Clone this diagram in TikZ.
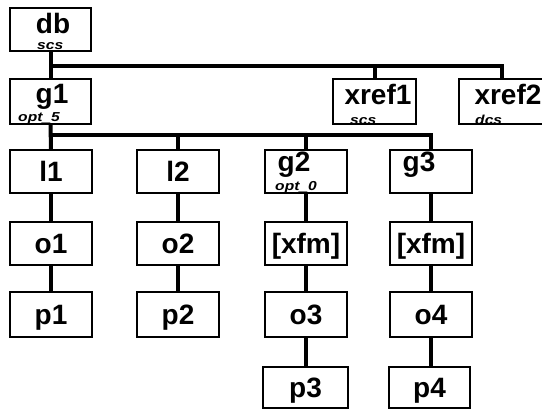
\documentclass[tikz,border=0pt]{standalone}
\usepackage{fontspec}
\setmainfont{Liberation Sans}
\begin{document}
\begin{tikzpicture}[x=1pt,y=-1pt,
  box/.style={draw=black,line width=2pt,inner sep=0pt,minimum height=43pt},
  conn/.style={draw=black,line width=4pt},
  lbl/.style={anchor=base,inner sep=0pt,font=\fontsize{28}{28}\selectfont\bfseries},
  sub/.style={anchor=base west,inner sep=0pt,xscale=1.2,font=\fontsize{13}{13}\selectfont\bfseries\itshape}]
\useasboundingbox (0,0) rectangle (542,409);

% small annotations under the box titles
\node[sub] (dbsub) at (37,49.5) {scs};
\node[sub] (gasub) at (18,122) {opt\_5};
\node[sub] (xasub) at (350,124.5) {scs};
\node[sub] (xbsub) at (475,124.5) {dcs};
\node[sub] (gbsub) at (275,191) {opt\_0};

% boxes
\node[box,minimum width=81pt] (db) at (50.5,29.5) {};
\node[box,minimum width=81pt,minimum height=45pt] (g1) at (50.5,101.5) {};
\node[box,minimum width=83pt,minimum height=45pt] (xref1) at (374.5,101.5) {};
\node[box,minimum width=86pt,minimum height=45pt] (xref2) at (502,101.5) {};

\node[box,minimum width=82pt] (l1) at (51,171.5) {};
\node[box,minimum width=82pt] (l2) at (178,171.5) {};
\node[box,minimum width=82pt] (g2) at (306,171.5) {};
\node[box,minimum width=82pt] (g3) at (431,171.5) {};

\node[box,minimum width=82pt] (o1) at (51,243.5) {};
\node[box,minimum width=82pt] (o2) at (178,243.5) {};
\node[box,minimum width=82pt] (x1) at (306,243.5) {};
\node[box,minimum width=82pt] (x2) at (431,243.5) {};

\node[box,minimum width=82pt,minimum height=45pt] (p1) at (51,314.5) {};
\node[box,minimum width=82pt,minimum height=45pt] (p2) at (178,314.5) {};
\node[box,minimum width=82pt,minimum height=45pt] (o3) at (306,314.5) {};
\node[box,minimum width=82pt,minimum height=45pt] (o4) at (431,314.5) {};

\node[box,minimum width=85pt,minimum height=41pt] (p3) at (305.5,387.5) {};
\node[box,minimum width=81pt,minimum height=41pt] (p4) at (429.5,387.5) {};

% connectors
\coordinate (b1) at (51,66);
\coordinate (b2) at (51,135);
\draw[conn] (db.south) -- (g1.north);
\draw[conn] (b1) -| (xref2.north);
\draw[conn] (b1 -| xref1.north) -- (xref1.north);
\draw[conn] (g1.south) -- (l1.north);
\draw[conn] (b2) -| (g3.north);
\draw[conn] (b2 -| l2.north) -- (l2.north);
\draw[conn] (b2 -| g2.north) -- (g2.north);
\draw[conn] (l1.south) -- (o1.north);
\draw[conn] (o1.south) -- (p1.north);
\draw[conn] (l2.south) -- (o2.north);
\draw[conn] (o2.south) -- (p2.north);
\draw[conn] (g2.south) -- (x1.north);
\draw[conn] (x1.south) -- (o3.north);
\draw[conn] (o3.south) -- (o3.south |- p3.north);
\draw[conn] (g3.south) -- (x2.north);
\draw[conn] (x2.south) -- (o4.north);
\draw[conn] (o4.south) -- (o4.south |- p4.north);

% box titles
\node[lbl] (tdb) at (53,34) {db};
\node[lbl] (tg1) at (52,104) {g1};
\node[lbl] (tx1) at (378,105) {xref1};
\node[lbl] (tx2) at (508,105) {xref2};
\node[lbl] (tl1) at (51,182) {l1};
\node[lbl] (tl2) at (178,182) {l2};
\node[lbl] (tg2) at (294,172) {g2};
\node[lbl] (tg3) at (419,172) {g3};
\node[lbl] (to1) at (51,253.5) {o1};
\node[lbl] (to2) at (178,253.5) {o2};
\node[lbl] (tx3) at (306,253.5) {[xfm]};
\node[lbl] (tx4) at (431,253.5) {[xfm]};
\node[lbl] (tp1) at (51,325) {p1};
\node[lbl] (tp2) at (178,325) {p2};
\node[lbl] (to3) at (306,325) {o3};
\node[lbl] (to4) at (431,325) {o4};
\node[lbl] (tp3) at (305.5,398) {p3};
\node[lbl] (tp4) at (429.5,398) {p4};
\end{tikzpicture}
\end{document}
